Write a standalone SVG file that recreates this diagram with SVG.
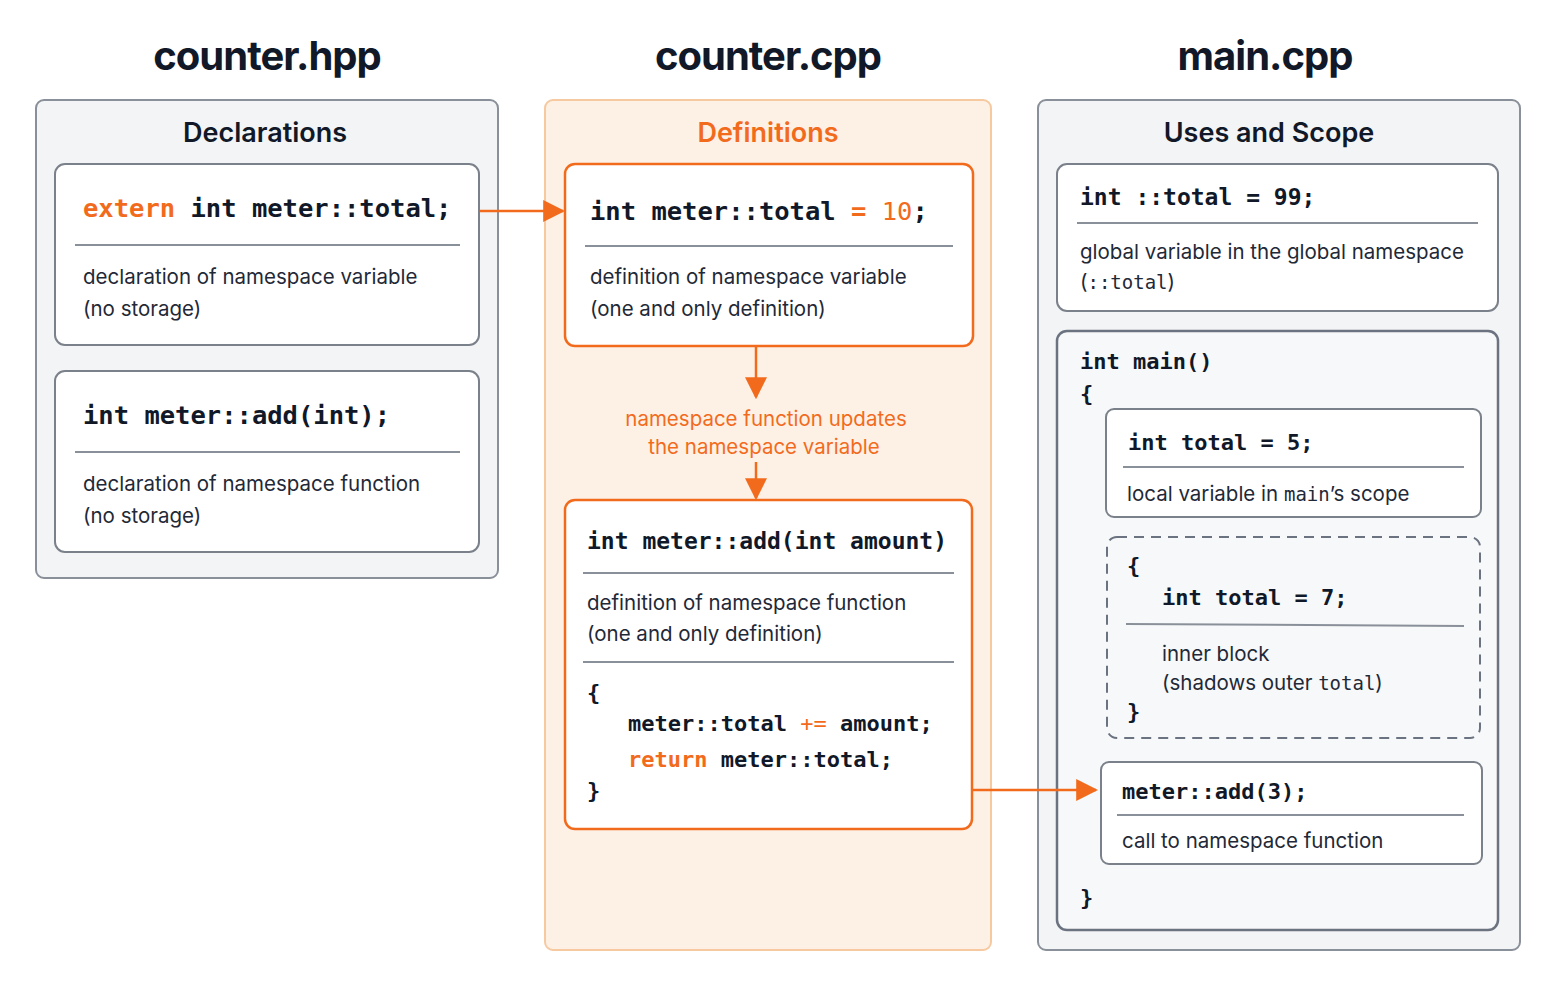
<svg xmlns="http://www.w3.org/2000/svg" width="1563" height="1006" viewBox="0 0 1563 1006">
<defs>
<marker id="ah" viewBox="0 0 10 10" refX="9" refY="5" markerWidth="8" markerHeight="8" markerUnits="userSpaceOnUse" orient="auto"><path d="M0,0 L10,5 L0,10 z" fill="#f26b1d"/></marker>
<marker id="ahb" viewBox="0 0 10 10" refX="9" refY="5" markerWidth="22" markerHeight="22" markerUnits="userSpaceOnUse" orient="auto"><path d="M0,0 L10,5 L0,10 z" fill="#f26b1d"/></marker>
<style>
.ft{font-family:Inter,"Noto Sans",sans-serif;font-weight:700;fill:#111827;text-anchor:middle;letter-spacing:-1px}
.pt{font-family:Inter,"Noto Sans",sans-serif;font-weight:600;font-size:27px;text-anchor:middle;fill:#111827}
.code{font-family:"DejaVu Sans Mono",monospace;font-weight:700;fill:#111827}
.cm{font-family:"DejaVu Sans Mono",monospace}
.t{font-family:Inter,"Noto Sans",sans-serif;font-size:20.5px;fill:#1f2937}
.o{fill:#f26b1d}
.panel{fill:#f3f4f6;stroke:#8a9099;stroke-width:2}
.box{fill:#fff;stroke:#7b818a;stroke-width:2}
.obox{fill:#fff;stroke:#f26b1d;stroke-width:2.5}
.sep{stroke:#8a9099;stroke-width:2}
.con{stroke:#f26b1d;stroke-width:2.5;fill:none}
</style>
</defs>
<rect width="1563" height="1006" fill="#fff"/>
<text class="ft" x="267" y="70" font-size="40">counter.hpp</text>
<text class="ft" x="768" y="70" font-size="40">counter.cpp</text>
<text class="ft" x="1265" y="70" font-size="40">main.cpp</text>

<g id="panel-hpp">
<rect class="panel" x="36" y="100" width="462" height="478" rx="8"/>
<text class="pt" x="265" y="142">Declarations</text>
</g>
<g id="decl-total">
<rect class="box" x="55" y="164" width="424" height="181" rx="10"/>
<text class="code" x="83" y="217" font-size="25.5"><tspan class="o">extern</tspan> int meter::total;</text>
<line class="sep" x1="75" y1="245" x2="460" y2="245"/>
<text class="t" x="83" y="284">declaration of namespace variable</text>
<text class="t" x="83" y="316">(no storage)</text>
</g>
<g id="decl-add">
<rect class="box" x="55" y="371" width="424" height="181" rx="10"/>
<text class="code" x="83" y="424" font-size="25.5">int meter::add(int);</text>
<line class="sep" x1="75" y1="452" x2="460" y2="452"/>
<text class="t" x="83" y="491">declaration of namespace function</text>
<text class="t" x="83" y="523">(no storage)</text>
</g>

<g id="panel-cpp">
<rect x="545" y="100" width="446" height="850" rx="8" fill="#fdf1e6" stroke="#f6c9a0" stroke-width="2"/>
<text class="pt o" x="768" y="142">Definitions</text>
</g>
<g id="def-total">
<rect class="obox" x="565" y="164" width="408" height="182" rx="10"/>
<text class="code" x="590" y="220" font-size="25.5">int meter::total <tspan class="o">=</tspan> <tspan class="o" font-weight="400">10</tspan>;</text>
<line class="sep" x1="585" y1="246" x2="953" y2="246"/>
<text class="t" x="590" y="284">definition of namespace variable</text>
<text class="t" x="590" y="316">(one and only definition)</text>
</g>
<g id="def-add">
<rect class="obox" x="565" y="500" width="407" height="329" rx="10"/>
<text class="code" x="587" y="549" font-size="23">int meter::add(int amount)</text>
<line class="sep" x1="583" y1="573" x2="954" y2="573"/>
<text class="t" x="587" y="610">definition of namespace function</text>
<text class="t" x="587" y="641">(one and only definition)</text>
<line class="sep" x1="583" y1="662" x2="954" y2="662"/>
<text class="code" x="587" y="700" font-size="22" font-weight="400">{</text>
<text class="code" x="628" y="731" font-size="22">meter::total <tspan class="o" font-weight="400">+=</tspan> amount;</text>
<text class="code" x="628" y="767" font-size="22"><tspan class="o">return</tspan> meter::total;</text>
<text class="code" x="587" y="798" font-size="22" font-weight="400">}</text>
</g>
<text class="t o" x="766" y="426" font-size="19.5" text-anchor="middle">namespace function updates</text>
<text class="t o" x="764" y="454" font-size="19.5" text-anchor="middle">the namespace variable</text>

<g id="panel-main">
<rect class="panel" x="1038" y="100" width="482" height="850" rx="8"/>
<text class="pt" x="1269" y="142">Uses and Scope</text>
</g>
<g id="global-total">
<rect class="box" x="1057" y="164" width="441" height="147" rx="10"/>
<text class="code" x="1080" y="205" font-size="23">int ::total = 99;</text>
<line class="sep" x1="1077" y1="223" x2="1478" y2="223"/>
<text class="t" x="1080" y="259">global variable in the global namespace</text>
<text class="t" x="1080" y="289">(<tspan class="cm" font-size="19">::total</tspan>)</text>
</g>
<g id="main-func">
<rect x="1057" y="331" width="441" height="599" rx="10" fill="#f7f8f9" stroke="#6b7280" stroke-width="2.5"/>
<text class="code" x="1080" y="369" font-size="22" font-weight="400">int main()</text>
<text class="code" x="1080" y="401" font-size="22" font-weight="400">{</text>
<text class="code" x="1080" y="905" font-size="22" font-weight="400">}</text>
</g>
<g id="local-total">
<rect class="box" x="1106" y="409" width="375" height="108" rx="8"/>
<text class="code" x="1128" y="450" font-size="22">int total = 5;</text>
<line class="sep" x1="1123" y1="467" x2="1464" y2="467"/>
<text class="t" x="1127" y="501" font-size="19.5">local variable in <tspan class="cm" font-size="19">main</tspan>’s scope</text>
</g>
<g id="inner-block">
<rect x="1107" y="537" width="373" height="201" rx="10" fill="#f7f8f9" stroke="#6b7280" stroke-width="2" stroke-dasharray="10 7"/>
<text class="code" x="1127" y="573" font-size="22" font-weight="400">{</text>
<text class="code" x="1162" y="605" font-size="22">int total = 7;</text>
<line class="sep" x1="1126" y1="624" x2="1464" y2="626"/>
<text class="t" x="1162" y="661" font-size="20">inner block</text>
<text class="t" x="1162" y="690" font-size="20">(shadows outer <tspan class="cm" font-size="19">total</tspan>)</text>
<text class="code" x="1127" y="719" font-size="22" font-weight="400">}</text>
</g>
<g id="call-add">
<rect class="box" x="1101" y="762" width="381" height="102" rx="8"/>
<text class="code" x="1122" y="799" font-size="22">meter::add(3);</text>
<line class="sep" x1="1117" y1="815" x2="1464" y2="815"/>
<text class="t" x="1122" y="848" font-size="19.5">call to namespace function</text>
</g>

<g id="connectors">
<line class="con" x1="480" y1="211" x2="563" y2="211" marker-end="url(#ahb)"/>
<line class="con" x1="756" y1="347" x2="756" y2="397" marker-end="url(#ahb)"/>
<line class="con" x1="756" y1="462" x2="756" y2="498" marker-end="url(#ahb)"/>
<line class="con" x1="973" y1="790" x2="1096" y2="790" marker-end="url(#ahb)"/>
</g>
</svg>
